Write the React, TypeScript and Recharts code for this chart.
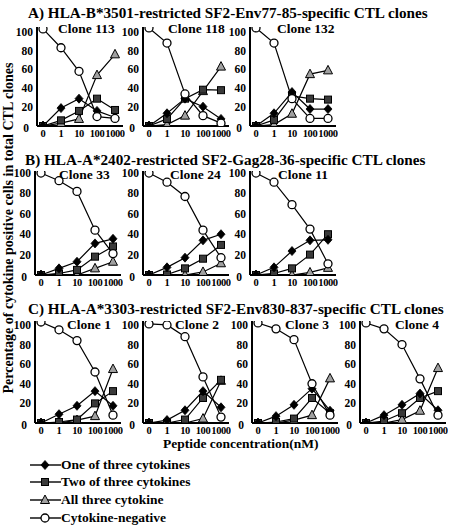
import React from 'react';
import { LineChart, Line, XAxis, YAxis } from 'recharts';

const concentrations = ['0', '1', '10', '100', '1000'];
const yTicks = [0, 20, 40, 60, 80, 100];

// Row A: HLA-B*3501
const clone113One = [0, 19, 29, 16, 9];
const clone113Two = [0, 6, 16, 29, 17];
const clone113All = [0, 3, 7.5, 54, 76];
const clone113Neg = [103, 83, 58, 10, 8];

const clone118One = [0, 13.5, 29, 20.5, 7.5];
const clone118Two = [0, 7.5, 29, 38.5, 38];
const clone118All = [0, 1.5, 11, 37, 63];
const clone118Neg = [104, 88, 34, 11, 3];

const clone132One = [0, 13.5, 36, 18, 18];
const clone132Two = [0, 6.5, 32, 29, 28];
const clone132All = [0, 1.5, 13, 55, 59];
const clone132Neg = [104, 88, 29, 8, 8];

// Row B: HLA-A*2402
const clone33One = [0, 6.5, 13, 31, 35.5];
const clone33Two = [0, 1.5, 5, 18, 28];
const clone33All = [0, 0, 0, 6.5, 13];
const clone33Neg = [100, 92.5, 82, 44, 21];

const clone24One = [0, 7.5, 17, 34, 40];
const clone24Two = [0, 0.5, 6.5, 16, 29.5];
const clone24All = [0, 0, 0, 3, 11.5];
const clone24Neg = [100, 91, 77, 44, 17];

const clone11One = [0, 7.5, 23.5, 34, 34.5];
const clone11Two = [0, 1.5, 6.5, 20, 40];
const clone11All = [0, 0, 0, 2.5, 7];
const clone11Neg = [100, 91, 69, 45, 11];

// Row C: HLA-A*3303
const clone1One = [0, 9, 17.5, 32.5, 17.5];
const clone1Two = [0, 1, 3.5, 20, 32.5];
const clone1All = [0, 0, 3, 7, 55];
const clone1Neg = [103, 95, 84, 52, 8];

const clone2One = [0, 3, 13, 32.5, 16];
const clone2Two = [0, 0, 3.5, 25.5, 44];
const clone2All = [0, 0, 0, 4.5, 43];
const clone2Neg = [101, 100, 88, 47, 6];

const clone3One = [0, 7, 18.5, 35, 12.5];
const clone3Two = [0, 1, 4.5, 25.5, 10];
const clone3All = [0, 0, 3, 8, 45.5];
const clone3Neg = [102, 96, 85, 40, 8];

const clone4One = [0, 8, 18.5, 30, 13];
const clone4Two = [0, 2, 10, 25.5, 32.5];
const clone4All = [0, 0, 3.5, 12.5, 56];
const clone4Neg = [102, 96, 80, 45, 8];

const rowTitles = [
  'A) HLA-B*3501-restricted SF2-Env77-85-specific CTL clones',
  'B) HLA-A*2402-restricted SF2-Gag28-36-specific CTL clones',
  'C) HLA-A*3303-restricted SF2-Env830-837-specific CTL clones',
];
const legendLabels = ['One of three cytokines', 'Two of three cytokines', 'All three cytokine', 'Cytokine-negative'];
const yLabel = 'Percentage of cytokine positive cells in total CTL clones';
const xLabel = 'Peptide concentration(nM)';

const FONT = '"Liberation Serif", "Times New Roman", serif';

type PanelDef = { name: string; one: number[]; two: number[]; all: number[]; neg: number[] };
type RowDef = {
  panels: PanelDef[];
  axisX: number[];
  cloneX: number[];
  plotTop: number;
  plotBottom: number;
  yMax: number;
  titleX: number;
  titleTop: number;
  cloneTop: number;
};

const rows: RowDef[] = [
  {
    panels: [
      { name: 'Clone 113', one: clone113One, two: clone113Two, all: clone113All, neg: clone113Neg },
      { name: 'Clone 118', one: clone118One, two: clone118Two, all: clone118All, neg: clone118Neg },
      { name: 'Clone 132', one: clone132One, two: clone132Two, all: clone132All, neg: clone132Neg },
    ],
    axisX: [37, 143, 250],
    cloneX: [58, 168, 277],
    plotTop: 27,
    plotBottom: 126,
    yMax: 105,
    titleX: 28,
    titleTop: 5,
    cloneTop: 22,
  },
  {
    panels: [
      { name: 'Clone 33', one: clone33One, two: clone33Two, all: clone33All, neg: clone33Neg },
      { name: 'Clone 24', one: clone24One, two: clone24Two, all: clone24All, neg: clone24Neg },
      { name: 'Clone 11', one: clone11One, two: clone11Two, all: clone11All, neg: clone11Neg },
    ],
    axisX: [35, 143, 250],
    cloneX: [59, 170, 278],
    plotTop: 171,
    plotBottom: 275,
    yMax: 102,
    titleX: 25,
    titleTop: 152,
    cloneTop: 168,
  },
  {
    panels: [
      { name: 'Clone 1', one: clone1One, two: clone1Two, all: clone1All, neg: clone1Neg },
      { name: 'Clone 2', one: clone2One, two: clone2Two, all: clone2All, neg: clone2Neg },
      { name: 'Clone 3', one: clone3One, two: clone3Two, all: clone3All, neg: clone3Neg },
      { name: 'Clone 4', one: clone4One, two: clone4Two, all: clone4All, neg: clone4Neg },
    ],
    axisX: [35, 143, 252, 360],
    cloneX: [67, 175, 285, 395],
    plotTop: 321,
    plotBottom: 423,
    yMax: 104,
    titleX: 28,
    titleTop: 301,
    cloneTop: 318,
  },
];

const YW = 32;
const PLOT_W = 86;
const M_TOP = 5;
const XH = 18;

const DiamondDot = (p: any) => {
  const { cx, cy, index } = p;
  if (cx == null || cy == null) return <g key={`dm-${index}`} />;
  return (
    <path key={`dm-${index}`} d={`M${cx},${cy - 4.5}L${cx + 4},${cy}L${cx},${cy + 4.5}L${cx - 4},${cy}Z`} fill="#000" stroke="#000" strokeWidth={0.8} />
  );
};
const SquareDot = (p: any) => {
  const { cx, cy, index } = p;
  if (cx == null || cy == null) return <g key={`sq-${index}`} />;
  return <rect key={`sq-${index}`} x={cx - 3.5} y={cy - 3.5} width={7} height={7} fill="#3a3a3a" stroke="#000" strokeWidth={1} />;
};
const TriangleDot = (p: any) => {
  const { cx, cy, index } = p;
  if (cx == null || cy == null) return <g key={`tr-${index}`} />;
  return (
    <path key={`tr-${index}`} d={`M${cx},${cy - 5}L${cx + 4.5},${cy + 3.5}L${cx - 4.5},${cy + 3.5}Z`} fill="#a0a0a0" stroke="#000" strokeWidth={1} />
  );
};
const CircleDot = (p: any) => {
  const { cx, cy, index } = p;
  if (cx == null || cy == null) return <g key={`ci-${index}`} />;
  return <circle key={`ci-${index}`} cx={cx} cy={cy} r={4} fill="#fff" stroke="#000" strokeWidth={1.3} />;
};

const xTickStyle = { fill: '#000', fontSize: 10.5, fontWeight: 'bold' as const, fontFamily: FONT, letterSpacing: -0.4 };

const YTick = (p: any) => {
  const { x, y, payload } = p;
  const v = payload.value;
  const isZero = v === 0;
  return (
    <text
      x={isZero ? x - 4 : x}
      y={isZero ? y + 2 : y}
      textAnchor="end"
      dominantBaseline="central"
      fill="#000"
      fontSize={11.5}
      fontWeight="bold"
      fontFamily={FONT}
    >
      {v}
    </text>
  );
};

function Panel({ def, row, axisX }: { def: PanelDef; row: RowDef; axisX: number }) {
  const data = concentrations.map((c, i) => ({
    c,
    one: def.one[i],
    two: def.two[i],
    all: def.all[i],
    neg: def.neg[i],
  }));
  const plotH = row.plotBottom - row.plotTop;
  const width = YW + PLOT_W + 2;
  const height = M_TOP + plotH + XH;
  return (
    <div style={{ position: 'absolute', left: axisX - YW, top: row.plotTop - M_TOP, width, height }}>
      <LineChart width={width} height={height} data={data} margin={{ top: M_TOP, right: 2, bottom: 0, left: 0 }}>
        <XAxis
          dataKey="c"
          height={XH}
          padding={{ left: 6, right: 8 }}
          axisLine={{ stroke: '#000', strokeWidth: 2 }}
          tickLine={false}
          tickSize={0}
          tick={xTickStyle}
          tickMargin={4}
          interval={0}
        />
        <YAxis
          type="number"
          width={YW}
          domain={[0, row.yMax]}
          ticks={yTicks}
          interval={0}
          allowDataOverflow
          axisLine={{ stroke: '#000', strokeWidth: 2 }}
          tickLine={false}
          tickSize={0}
          tick={<YTick />}
          tickMargin={4}
        />
        <Line dataKey="all" type="linear" stroke="#000" strokeWidth={1.2} dot={TriangleDot} isAnimationActive={false} />
        <Line dataKey="two" type="linear" stroke="#000" strokeWidth={1.2} dot={SquareDot} isAnimationActive={false} />
        <Line dataKey="one" type="linear" stroke="#000" strokeWidth={1.2} dot={DiamondDot} isAnimationActive={false} />
        <Line dataKey="neg" type="linear" stroke="#000" strokeWidth={1.2} dot={CircleDot} isAnimationActive={false} />
      </LineChart>
    </div>
  );
}

const LegendIcon = ({ kind }: { kind: number }) => {
  const cx = 15;
  const cy = 6;
  let marker: React.ReactNode = null;
  if (kind === 0) marker = <DiamondDot cx={cx} cy={cy} index={0} />;
  if (kind === 1) marker = <SquareDot cx={cx} cy={cy} index={0} />;
  if (kind === 2) marker = <TriangleDot cx={cx} cy={cy} index={0} />;
  if (kind === 3) marker = <CircleDot cx={cx} cy={cy} index={0} />;
  return (
    <svg width={31} height={12} style={{ display: 'block' }}>
      <line x1={0} y1={cy} x2={31} y2={cy} stroke="#000" strokeWidth={1.4} />
      {marker}
    </svg>
  );
};

const textBase: React.CSSProperties = {
  position: 'absolute',
  fontFamily: FONT,
  fontWeight: 'bold',
  color: '#000',
  whiteSpace: 'nowrap',
  lineHeight: 1,
};

export default function App() {
  const legendY = [465, 482, 500, 518];
  return (
    <div style={{ position: 'absolute', left: 0, top: 0, width: 452, height: 526, overflow: 'hidden', background: '#fff' }}>
      {rows.map((row, ri) => (
        <React.Fragment key={ri}>
          {row.panels.map((p, pi) => (
            <Panel key={pi} def={p} row={row} axisX={row.axisX[pi]} />
          ))}
          <div style={{ ...textBase, left: row.titleX, top: row.titleTop, fontSize: 15.2 }}>{rowTitles[ri]}</div>
          {row.panels.map((p, pi) => (
            <div key={`cl-${pi}`} style={{ ...textBase, left: row.cloneX[pi], top: row.cloneTop, fontSize: 13.5 }}>
              {p.name}
            </div>
          ))}
        </React.Fragment>
      ))}
      <div
        style={{
          ...textBase,
          left: 9,
          top: 228,
          fontSize: 14,
          transform: 'translate(-50%, -50%) rotate(-90deg)',
        }}
      >
        {yLabel}
      </div>
      <div style={{ ...textBase, left: 163, top: 437, fontSize: 13.5 }}>{xLabel}</div>
      {legendLabels.map((l, i) => (
        <div key={l} style={{ position: 'absolute', left: 30, top: legendY[i] - 7, height: 14, display: 'flex', alignItems: 'center' }}>
          <LegendIcon kind={i} />
          <span style={{ fontFamily: FONT, fontWeight: 'bold', fontSize: 13.5, marginLeft: 0, whiteSpace: 'nowrap', lineHeight: 1 }}>{l}</span>
        </div>
      ))}
    </div>
  );
}
